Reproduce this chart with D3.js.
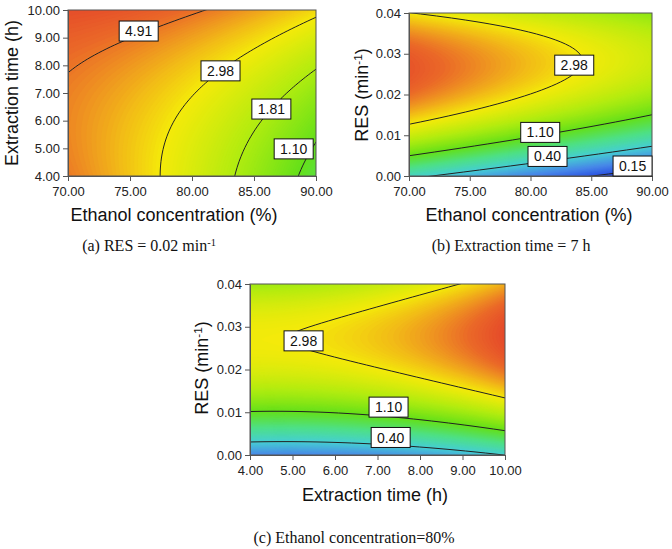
<!DOCTYPE html>
<html><head><meta charset="utf-8">
<script src="https://cdn.jsdelivr.net/npm/d3@7"></script>
<style>body{margin:0;background:#fff}svg{display:block}</style>
</head><body>
<svg id="chart" width="672" height="549"></svg>
<script>
// ---------- data ----------
const ethanolTicks = [70, 75, 80, 85, 90];
const timeTicks = [4, 5, 6, 7, 8, 9, 10];
const resTicks = [0, 0.01, 0.02, 0.03, 0.04];

// design levels of the three factors (low, centre, high)
const ethanolLevels = [70, 80, 90];
const timeLevels = [4, 7, 10];
const resLevels = [0, 0.02, 0.04];

// estimated yield at the design grid (rows: y-axis levels low→high, cols: x-axis levels low→high)
const yieldA = [ // RES = 0.02; rows time 4,7,10; cols ethanol 70,80,90
  [4.853, 2.436, 0.946],
  [4.720, 3.024, 1.499],
  [6.233, 5.098, 3.225]
];
const yieldB = [ // time = 7 h; rows RES 0,0.02,0.04; cols ethanol 70,80,90
  [0.459, 0.220, 0.103],
  [5.115, 2.959, 1.671],
  [3.007, 2.103, 1.436]
];
const yieldC = [ // ethanol = 80%; rows RES 0,0.02,0.04; cols time 4,7,10
  [0.233, 0.252, 0.403],
  [2.485, 2.916, 5.074],
  [1.625, 2.070, 3.910]
];

const levelsA = [4.91, 2.98, 1.81, 1.10];
const labelXA = [75.7, 82.3, 86.4, 88.2];
const labelYA = [9.24, 7.80, 6.42, 4.98];
const levelsB = [2.98, 1.10, 0.40, 0.15];
const labelXB = [83.6, 80.8, 81.4, 88.4];
const labelYB = [0.0272, 0.0107, 0.0048, 0.00245];
const levelsC = [2.98, 1.10, 0.40];
const labelXC = [5.26, 7.26, 7.31];
const labelYC = [0.0267, 0.0112, 0.0041];

const colorStops = [-2.25,-1.9,-1.45,-0.9,-0.4,0.1,0.6,1.09,1.3,1.5,1.65,1.85,2.1];
const colorList = ['#1e2ee0','#2c52e2','#4888e8','#46cfd2','#4ee088','#64e01a','#b0ec10','#f4ea0a','#f2be16','#ee8e22','#ea6828','#e54a2a','#e03828'];

// ---------- surface through the 3x3 design grid (quadratic in ln yield) ----------
function surface(grid, xl, yl){
  const G = grid.map(r => r.map(Math.log));
  const basis = t => [t*(t-1)/2, 1-t*t, t*(t+1)/2];
  return (x, y) => {
    const bu = basis((x - xl[1]) / (xl[2] - xl[1]));
    const bv = basis((y - yl[1]) / (yl[2] - yl[1]));
    let s = 0;
    for (let j = 0; j < 3; j++) for (let i = 0; i < 3; i++) s += bv[j]*bu[i]*G[j][i];
    return s;
  };
}

const color = d3.scaleLinear().domain(colorStops).range(colorList).interpolate(d3.interpolateRgb).clamp(true);
const svg = d3.select('#chart');
const fmt = d3.format('.2f');
const sans = 'Arial, "Liberation Sans", sans-serif', serif = '"Times New Roman", "Liberation Serif", serif';

function panel(cfg){
  const {left,right,top,bottom,xl,yl,xt,yt,grid,levels,lx,ly,id} = cfg;
  const xd = [xl[0], xl[2]], yd = [yl[0], yl[2]];
  const x = d3.scaleLinear().domain(xd).range([left,right]);
  const y = d3.scaleLinear().domain(yd).range([bottom,top]);
  const f = surface(grid, xl, yl);
  const s = 2, pad = 3;
  const ox = left - pad*s, oy = top - pad*s;
  const nx = Math.ceil((right-left)/s)+2*pad, ny = Math.ceil((bottom-top)/s)+2*pad;
  const vals = new Array(nx*ny);
  for (let j=0;j<ny;j++) for (let i=0;i<nx;i++){
    vals[j*nx+i] = f(x.invert(ox+(i+0.5)*s), y.invert(oy+(j+0.5)*s));
  }
  const path = d3.geoPath(d3.geoTransform({point(px,py){ this.stream.point(ox+px*s, oy+py*s); }}));
  const g = svg.append('g');
  g.append('clipPath').attr('id','clip'+id).append('rect').attr('x',left).attr('y',top).attr('width',right-left).attr('height',bottom-top);
  const body = g.append('g').attr('clip-path',`url(#clip${id})`);
  const step = 0.02, th = d3.range(-2.6, 2.4, step);
  body.append('rect').attr('x',left).attr('y',top).attr('width',right-left).attr('height',bottom-top).attr('fill',color(-2.6));
  body.selectAll('path.band').data(d3.contours().size([nx,ny]).thresholds(th)(vals)).join('path')
    .attr('class','band').attr('d',path).attr('fill',d=>color(d.value+step/2)).attr('stroke',d=>color(d.value+step/2)).attr('stroke-width',0.3);
  body.selectAll('path.iso').data(d3.contours().size([nx,ny]).thresholds(levels.map(Math.log))(vals)).join('path')
    .attr('class','iso').attr('d',path).attr('fill','none').attr('stroke','#222').attr('stroke-width',1);
  g.append('rect').attr('x',left).attr('y',top).attr('width',right-left).attr('height',bottom-top).attr('fill','none').attr('stroke','#555').attr('stroke-width',1);
  const ax = g.append('g').attr('transform',`translate(0,${bottom})`).call(d3.axisBottom(x).tickValues(xt).tickFormat(fmt).tickSize(5).tickSizeOuter(0));
  const ay = g.append('g').attr('transform',`translate(${left},0)`).call(d3.axisLeft(y).tickValues(yt).tickFormat(fmt).tickSize(5).tickSizeOuter(0));
  [ax,ay].forEach(a=>{ a.select('.domain').attr('stroke','#555'); a.selectAll('line').attr('stroke','#555');
    a.selectAll('text').attr('font-family',sans).attr('font-size',13).attr('fill','#222'); });
  ax.selectAll('text').attr('dy','0.9em');
  const lab = g.selectAll('g.lab').data(levels).join('g').attr('class','lab')
    .attr('transform',(d,i)=>`translate(${x(lx[i])},${y(ly[i])})`);
  lab.append('rect').attr('x',-19.5).attr('y',-10).attr('width',39).attr('height',20).attr('fill','#fff').attr('stroke','#111').attr('stroke-width',1);
  lab.append('text').attr('text-anchor','middle').attr('dy','0.36em').attr('font-family',sans).attr('font-size',14).attr('fill','#111').text(d=>fmt(d));
  return g;
}

panel({id:'a',left:68,right:316,top:10,bottom:176,xl:ethanolLevels,yl:timeLevels,xt:ethanolTicks,yt:timeTicks,grid:yieldA,levels:levelsA,lx:labelXA,ly:labelYA});
panel({id:'b',left:409,right:652,top:13,bottom:176,xl:ethanolLevels,yl:resLevels,xt:ethanolTicks,yt:resTicks,grid:yieldB,levels:levelsB,lx:labelXB,ly:labelYB});
panel({id:'c',left:250,right:505,top:284,bottom:455,xl:timeLevels,yl:resLevels,xt:timeTicks,yt:resTicks,grid:yieldC,levels:levelsC,lx:labelXC,ly:labelYC});

function title(tx, ty, rot, parts, font, size){
  const t = svg.append('text').attr('transform',`translate(${tx},${ty}) rotate(${rot})`).attr('text-anchor','middle').attr('dy','0.35em')
    .attr('font-family',font).attr('font-size',size).attr('fill','#111');
  parts.forEach(p=>{ const s = t.append('tspan').text(p[0]); if(p[1]) s.attr('baseline-shift','super').attr('font-size',size*0.65); });
}
title(12, 93, -90, [['Extraction time  (h)']], sans, 18);
title(174, 215, 0, [['Ethanol concentration (%)']], sans, 18);
title(149, 245, 0, [['(a) RES = 0.02 min'],['-1',1]], serif, 16);
title(362, 95, -90, [['RES (min'],['-1',1],[')']], sans, 18);
title(529, 215, 0, [['Ethanol concentration (%)']], sans, 18);
title(511, 245, 0, [['(b) Extraction time = 7 h']], serif, 16);
title(202, 368, -90, [['RES (min'],['-1',1],[')']], sans, 18);
title(375, 495, 0, [['Extraction time (h)']], sans, 18);
title(354, 537, 0, [['(c) Ethanol concentration=80%']], serif, 16);
</script>
</body></html>
